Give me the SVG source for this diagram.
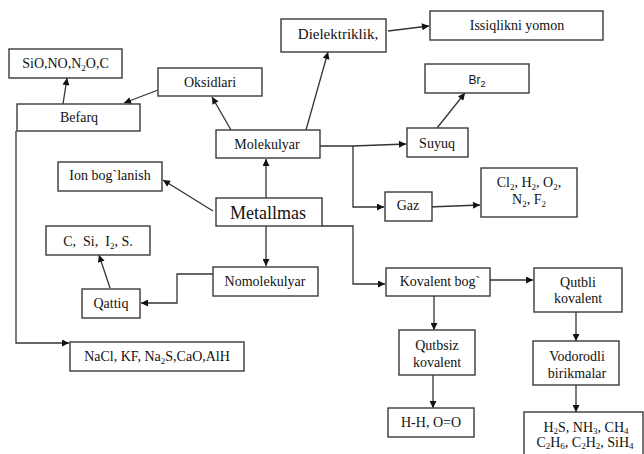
<svg xmlns="http://www.w3.org/2000/svg" width="644" height="454" viewBox="0 0 644 454">
<style>
.b{fill:#fff;stroke:#3a3a3a;stroke-width:1.4}
.t{font-family:"Liberation Serif","Times New Roman",serif;font-size:14px;fill:#111;text-anchor:middle}
.s{font-size:9px}
.c{fill:none;stroke:#333;stroke-width:1.3}
</style>
<defs>
<marker id="a" viewBox="0 0 10 10" refX="10" refY="5" markerWidth="8" markerHeight="7" markerUnits="userSpaceOnUse" orient="auto">
<path d="M0,0 L10,5 L0,10 z" fill="#111"/>
</marker>
</defs>
<rect width="644" height="454" fill="#fff"/>
<g id="connectors" class="c" marker-end="url(#a)">
<path d="M158,90 L124,103"/>
<path d="M63,104 L67,78"/>
<path d="M16,131 V343 H69"/>
<path d="M231,130 L212,97"/>
<path d="M306,130 L328,52"/>
<path d="M388,31 L429,26"/>
<path d="M320,146 H353 L406,144"/>
<path d="M353,146 V207 H384"/>
<path d="M437,128 L465,93"/>
<path d="M429,207 L480,205"/>
<path d="M213,211 L163,180"/>
<path d="M266,198 V159"/>
<path d="M266,226 V266"/>
<path d="M322,226 H353 V284 H385"/>
<path d="M490,280 H533"/>
<path d="M434,296 V330"/>
<path d="M433,375 V408"/>
<path d="M576,312 V341"/>
<path d="M576,385 V412"/>
<path d="M213,274 H177 V303 H141"/>
<path d="M110,288 L99,255"/>
</g>
<g id="sio"><rect class="b" x="9" y="49" width="113" height="29"/><text class="t" x="65.5" y="68">SiO,NO,N<tspan class="s" dy="3">2</tspan><tspan dy="-3">O,C</tspan></text></g>
<g id="oksidlari"><rect class="b" x="158" y="68" width="104" height="28"/><text class="t" x="210" y="87">Oksidlari</text></g>
<g id="befarq"><rect class="b" x="17" y="104" width="123" height="27"/><text class="t" x="79" y="122">Befarq</text></g>
<g id="dielektriklik"><rect class="b" x="281" y="19" width="105" height="33"/><text class="t" x="338" y="39" style="font-size:15px">Dielektriklik,</text></g>
<g id="issiqlikni"><rect class="b" x="430" y="11" width="173" height="29"/><text class="t" x="517" y="30">Issiqlikni yomon</text></g>
<g id="br2"><rect class="b" x="425" y="64" width="104" height="29"/><text class="t" x="477" y="84" style="font-family:'Liberation Sans',Arial,sans-serif;font-size:12px">Br<tspan class="s" dy="3">2</tspan></text></g>
<g id="molekulyar"><rect class="b" x="216" y="130" width="104" height="28"/><text class="t" x="267" y="149">Molekulyar</text></g>
<g id="suyuq"><rect class="b" x="407" y="128" width="61" height="29"/><text class="t" x="437" y="148">Suyuq</text></g>
<g id="ion"><rect class="b" x="58" y="162" width="104" height="29"/><text class="t" x="110" y="180">Ion bog`lanish</text></g>
<g id="metallmas"><rect class="b" x="216" y="198" width="106" height="28"/><text class="t" x="268" y="219" style="font-size:18px">Metallmas</text></g>
<g id="gaz"><rect class="b" x="385" y="192" width="47" height="29"/><text class="t" x="408" y="210">Gaz</text></g>
<g id="cl2"><rect class="b" x="481" y="168" width="96" height="49"/><text class="t" x="529" y="187">Cl<tspan class="s" dy="3">2</tspan><tspan dy="-3">, H</tspan><tspan class="s" dy="3">2</tspan><tspan dy="-3">, O</tspan><tspan class="s" dy="3">2</tspan><tspan dy="-3">,</tspan></text><text class="t" x="529" y="204">N<tspan class="s" dy="3">2</tspan><tspan dy="-3">, F</tspan><tspan class="s" dy="3">2</tspan></text></g>
<g id="csi"><rect class="b" x="46" y="226" width="104" height="29"/><text class="t" x="98" y="246" xml:space="preserve">C,  Si,  I<tspan class="s" dy="3">2</tspan><tspan dy="-3">, S.</tspan></text></g>
<g id="nomolekulyar"><rect class="b" x="213" y="267" width="105" height="29"/><text class="t" x="265" y="286">Nomolekulyar</text></g>
<g id="qattiq"><rect class="b" x="82" y="289" width="58" height="29"/><text class="t" x="111" y="308">Qattiq</text></g>
<g id="nacl"><rect class="b" x="70" y="342" width="174" height="29"/><text class="t" x="157" y="361">NaCl, KF, Na<tspan class="s" dy="3">2</tspan><tspan dy="-3">S,CaO,AlH</tspan></text></g>
<g id="kovalent"><rect class="b" x="386" y="268" width="104" height="28"/><text class="t" x="440" y="286">Kovalent bog`</text></g>
<g id="qutbli"><rect class="b" x="534" y="268" width="88" height="44"/><text class="t" x="578" y="287">Qutbli</text><text class="t" x="578" y="303">kovalent</text></g>
<g id="qutbsiz"><rect class="b" x="399" y="330" width="76" height="45"/><text class="t" x="437" y="350">Qutbsiz</text><text class="t" x="437" y="367">kovalent</text></g>
<g id="vodorodli"><rect class="b" x="533" y="341" width="86" height="44"/><text class="t" x="577" y="361">Vodorodli</text><text class="t" x="577" y="378">birikmalar</text></g>
<g id="hh"><rect class="b" x="388" y="408" width="86" height="29"/><text class="t" x="431" y="427">H-H, O=O</text></g>
<g id="h2s"><rect class="b" x="524" y="412" width="119" height="60"/><text class="t" x="586" y="432">H<tspan class="s" dy="2">2</tspan><tspan dy="-2">S, NH</tspan><tspan class="s" dy="2">3</tspan><tspan dy="-2">, CH</tspan><tspan class="s" dy="2">4</tspan></text><text class="t" x="585" y="447">C<tspan class="s" dy="2">2</tspan><tspan dy="-2">H</tspan><tspan class="s" dy="2">6</tspan><tspan dy="-2">, C</tspan><tspan class="s" dy="2">2</tspan><tspan dy="-2">H</tspan><tspan class="s" dy="2">2</tspan><tspan dy="-2">, SiH</tspan><tspan class="s" dy="2">4</tspan></text></g>
</svg>
